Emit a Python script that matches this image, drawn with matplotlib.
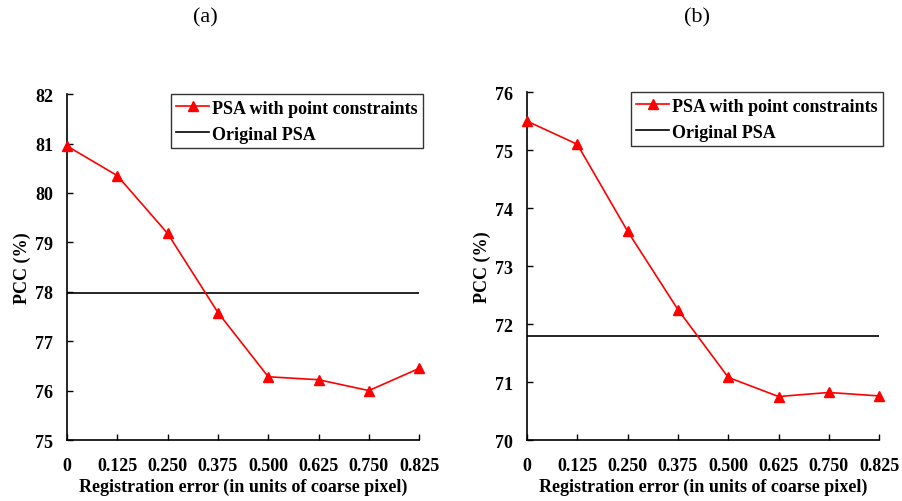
import numpy as np
import matplotlib
matplotlib.use('Agg')
import matplotlib.pyplot as plt

plt.rcParams['font.family'] = ['Liberation Serif', 'DejaVu Serif']

errors = ['0', '0.125', '0.250', '0.375', '0.500', '0.625', '0.750', '0.825']
pcc_a = [80.95, 80.35, 79.18, 77.58, 76.28, 76.22, 76.0, 76.45]
orig_a = 77.98
pcc_b = [75.5, 75.1, 73.6, 72.25, 71.08, 70.75, 70.82, 70.76]
orig_b = 71.8

fig = plt.figure(figsize=(9.03, 5.02), dpi=100)
ax1 = fig.add_axes([0.0742, 0.1215, 0.39, 0.689])
ax2 = fig.add_axes([0.5836, 0.1215, 0.39, 0.693])

def draw(ax, vals, orig, ylim):
    x = np.arange(len(errors))
    ax.plot(x, vals, color='red', marker='^', markersize=7, lw=1.2,
            label='PSA with point constraints', clip_on=False, zorder=3)
    ax.axhline(orig, color='black', lw=1.2, label='Original PSA')
    ax.set_xlim(0, len(errors) - 1)
    ax.set_ylim(*ylim)
    ax.set_xticks(x)
    ax.set_xticklabels(errors)
    ax.set_yticks(np.arange(ylim[0], ylim[1] + 1))
    ax.tick_params(direction='in', length=4, width=1, labelsize=13)
    ax.tick_params(axis='x', pad=12)
    ax.tick_params(axis='y', pad=10)
    for lab in ax.get_xticklabels() + ax.get_yticklabels():
        lab.set_fontweight('bold')
    ax.spines['top'].set_visible(False)
    ax.spines['right'].set_visible(False)
    ax.spines['left'].set_linewidth(1.2)
    ax.spines['bottom'].set_linewidth(1.2)
    ax.set_xlabel('Registration error (in units of coarse pixel)', fontsize=13, fontweight='bold', labelpad=3)
    ax.set_ylabel('PCC (%)', fontsize=13, fontweight='bold', labelpad=3)
    leg = ax.legend(loc='upper right', fancybox=False, edgecolor='black',
                    prop={'weight': 'bold', 'size': 13}, borderaxespad=0.0,
                    bbox_to_anchor=(1.01, 1.0),
                    handlelength=1.8, handletextpad=0.15, borderpad=0.3,
                    labelspacing=0.5)
    leg.get_frame().set_linewidth(1.0)

draw(ax1, pcc_a, orig_a, (75, 82))
draw(ax2, pcc_b, orig_b, (70, 76))

fig.text(205 / 903, 1 - 18 / 502, '(a)', ha='center', va='center', fontsize=16)
fig.text(697 / 903, 1 - 18 / 502, '(b)', ha='center', va='center', fontsize=16)

fig.savefig('out.png', dpi=100)
